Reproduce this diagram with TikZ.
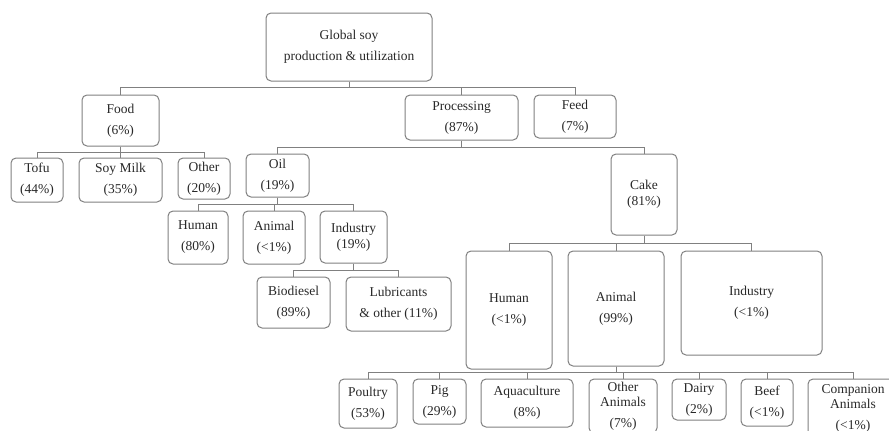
\documentclass[tikz,border=0pt]{standalone}
\usepackage{fontspec}
\setmainfont{Liberation Serif}
\definecolor{boxgray}{RGB}{128,128,128}
\definecolor{txt}{RGB}{40,40,40}
\tikzset{
  box/.style={draw=boxgray, line width=1pt, rounded corners=5pt, inner sep=0pt,
    align=center, text=txt, font=\fontsize{13.5}{21}\selectfont},
  link/.style={draw=boxgray, line width=1pt},
}
% \bx{name}{left}{top}{right}{bottom}{text}
\newcommand\bx[6]{\node[box, minimum width={#4-#2}, minimum height={#5-#3}]
  (#1) at ({(#2+#4)/2},{(#3+#5)/2}) {#6};}
\begin{document}
\begin{tikzpicture}[x=1pt,y=-1pt]
\useasboundingbox (0,0) rectangle (889,431);
\clip (0,0) rectangle (889,431);

% top levels
\bx{g}{266}{13}{432}{81}{Global soy\\production \& utilization}
\bx{food}{82}{95}{159}{146}{Food\\(6\%)}
\bx{proc}{405}{95}{518}{140}{Processing\\(87\%)}
\bx{feed}{534}{95}{616}{138}{Feed\\(7\%)}

% food branch
\bx{tofu}{11}{158}{63}{202}{Tofu\\(44\%)}
\bx{soy}{79}{158}{162}{202}{Soy Milk\\(35\%)}
\bx{fother}{178}{158}{230}{199}{Other\\(20\%)}

% processing branch
\bx{oil}{246}{154}{309}{197}{Oil\\(19\%)}
\bx{cake}{611}{154}{677}{235}{Cake\\[-5pt](81\%)}

% oil uses
\bx{ohum}{168}{211}{228}{264}{Human\\(80\%)}
\bx{oani}{243}{211}{305}{264}{Animal\\(<1\%)}
\bx{oind}{320}{211}{387}{263}{Industry\\[-5pt](19\%)}
\bx{bio}{257}{277}{330}{328}{Biodiesel\\(89\%)}
\bx{lub}{346}{277}{451}{331}{Lubricants\\\& other (11\%)}

% cake uses
\bx{chum}{466}{251}{552}{369}{Human\\(<1\%)}
\bx{cani}{568}{251}{664}{366}{Animal\\(99\%)}
\bx{cind}{681}{251}{822}{355}{Industry\\(<1\%)}

% animal feed
\bx{poul}{339}{379}{397}{428}{Poultry\\(53\%)}
\bx{pig}{413}{379}{466}{424}{Pig\\(29\%)}
\bx{aqua}{481}{379}{573}{427}{Aquaculture\\(8\%)}
\bx{oth}{589}{379}{657}{433}{Other\\[-6pt]Animals\\(7\%)}
\bx{dairy}{672}{379}{726}{420}{Dairy\\(2\%)}
\bx{beef}{741}{379}{793}{426}{Beef\\(<1\%)}
\bx{comp}{808}{379}{898}{437}{Companion\\[-6pt]Animals\\(<1\%)}

% connectors
\foreach \c in {food,proc,feed} \draw[link] (g.south) -- ++(0,6) -| (\c.north);
\foreach \c in {tofu,soy,fother} \draw[link] (food.south) -- ++(0,6) -| (\c.north);
\foreach \c in {oil,cake} \draw[link] (proc.south) -- ++(0,7) -| (\c.north);
\foreach \c in {ohum,oani,oind} \draw[link] (oil.south) -- ++(0,7) -| (\c.north);
\foreach \c in {bio,lub} \draw[link] (oind.south) -- ++(0,7) -| (\c.north);
\foreach \c in {chum,cani,cind} \draw[link] (cake.south) -- ++(0,8) -| (\c.north);
\foreach \c in {poul,pig,aqua,oth,dairy,beef,comp} \draw[link] (cani.south) -- ++(0,6) -| (\c.north);
\end{tikzpicture}
\end{document}
